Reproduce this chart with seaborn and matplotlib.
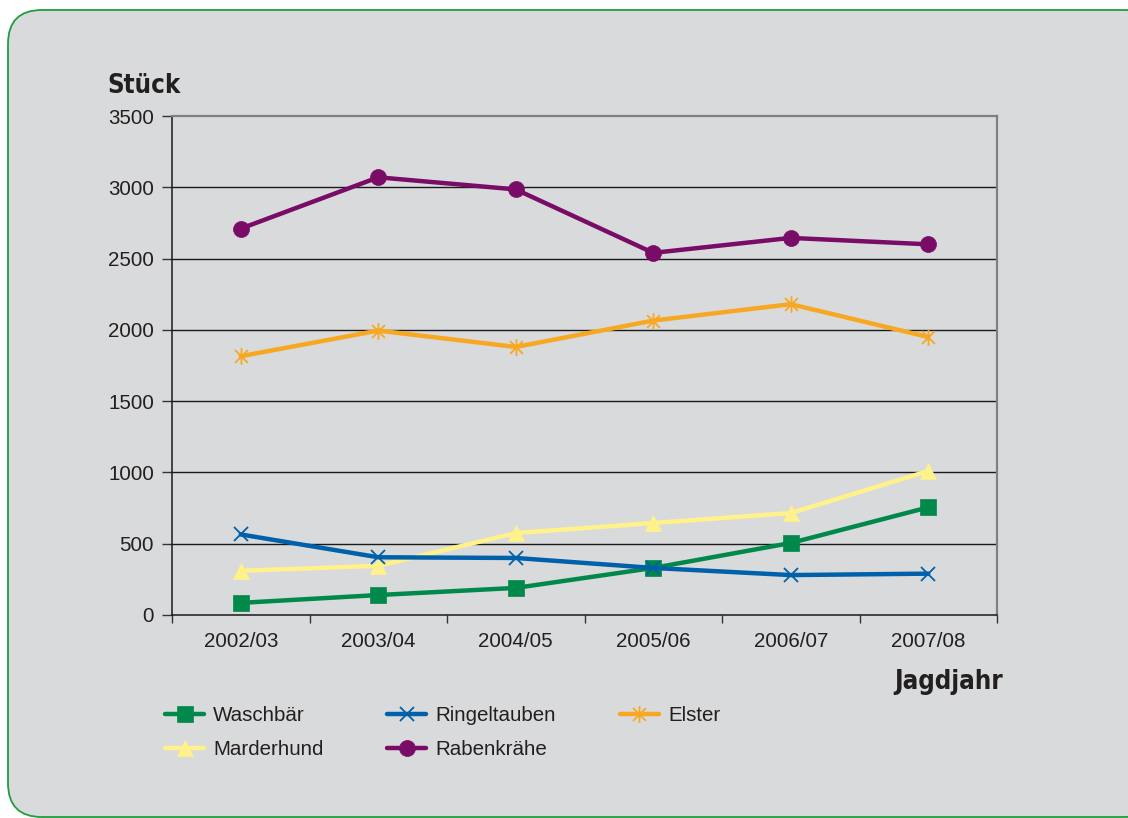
import matplotlib
matplotlib.use("Agg")
import matplotlib.pyplot as plt
import matplotlib.transforms as mtransforms
from matplotlib.patches import FancyBboxPatch
from matplotlib.path import Path
import numpy as np
import pandas as pd
import seaborn as sns

# Jagdjahre
years = ["2002/03", "2003/04", "2004/05", "2005/06", "2006/07", "2007/08"]

# Streckenzahlen (Stück)
waschbaer = [85, 140, 190, 330, 505, 755]
marderhund = [310, 345, 575, 645, 715, 1010]
ringeltauben = [565, 405, 400, 330, 280, 290]
rabenkraehe = [2710, 3070, 2985, 2540, 2645, 2600]
elster = [1815, 1995, 1880, 2065, 2180, 1950]

y_ticks = [0, 500, 1000, 1500, 2000, 2500, 3000, 3500]

sns.set_theme(style="white")
plt.rcParams["font.family"] = ["Liberation Sans", "DejaVu Sans"]

TEXT = "#231f20"
BG = "#d9dadb"
FS = 14.8

# Asterisk marker: an X plus a vertical stroke
star_path = Path(
    [(-1, -1), (1, 1), (-1, 1), (1, -1), (0, -1.3), (0, 1.3)],
    [Path.MOVETO, Path.LINETO, Path.MOVETO, Path.LINETO, Path.MOVETO, Path.LINETO],
)

series = [
    ("Waschbär", waschbaer, "#00894a", "s", 11),
    ("Marderhund", marderhund, "#fff28a", "^", 12),
    ("Ringeltauben", ringeltauben, "#0060aa", "x", 10.5),
    ("Rabenkrähe", rabenkraehe, "#790c66", "o", 11.5),
    ("Elster", elster, "#f7a823", star_path, 12),
]

frames = []
for name, vals, *_ in series:
    frames.append(pd.DataFrame({"pos": np.arange(len(years)), "value": vals, "Art": name}))
df = pd.concat(frames, ignore_index=True)

fig = plt.figure(figsize=(11.28, 8.18), dpi=100)
fig.patch.set_facecolor("white")

# Rounded panel behind the chart
panel = FancyBboxPatch(
    (8 / 1128, 1 / 818), 1150 / 1128, 807 / 818,
    boxstyle="round,pad=0,rounding_size=0.03",
    transform=fig.transFigure, facecolor=BG, edgecolor="#1f9e3c",
    linewidth=1.3, zorder=-5, mutation_aspect=1128 / 818,
)
fig.patches.append(panel)

ax = fig.add_axes([172 / 1128, (818 - 615) / 818, 825 / 1128, 499 / 818])
ax.set_zorder(2)
ax.set_facecolor(BG)

zorders = {"Waschbär": 3, "Marderhund": 4, "Ringeltauben": 5, "Rabenkrähe": 6, "Elster": 7}
for name, vals, color, marker, ms in series:
    sub = df[df["Art"] == name]
    sns.lineplot(
        data=sub, x="pos", y="value", ax=ax, color=color, linewidth=3.2,
        marker=marker, markersize=ms, markeredgecolor=color,
        markeredgewidth=1.3 if name in ("Ringeltauben", "Elster") else 0.5,
        label=name, zorder=zorders[name], legend=False,
    )

ax.set_xlim(-0.5, len(years) - 0.5)
ax.set_ylim(0, 3500)
ax.set_yticks(y_ticks)
ax.set_yticklabels([str(v) for v in y_ticks], fontsize=FS, color=TEXT)

# Y labels sit slightly below their tick marks
shift = mtransforms.ScaledTranslation(0, -5 / 100, fig.dpi_scale_trans)
for lbl in ax.get_yticklabels():
    lbl.set_transform(lbl.get_transform() + shift)

# Tick marks at category borders, labels centred in each category
ax.set_xticks(np.arange(len(years) + 1) - 0.5)
ax.set_xticklabels([])
ax.set_xticks(np.arange(len(years)), minor=True)
ax.set_xticklabels(years, minor=True, fontsize=FS, color=TEXT)
ax.tick_params(axis="x", which="major", direction="out", length=6, width=1, color="#333333", bottom=True)
ax.tick_params(axis="x", which="minor", length=0, pad=12)
ax.tick_params(axis="y", direction="out", length=7, width=1, color="#333333", left=True, pad=6)

for v in y_ticks[1:-1]:
    ax.axhline(v, color="#1a1a1a", linewidth=1.0, zorder=1)

ax.set_xlabel("")
ax.set_ylabel("")
for side in ("left", "bottom"):
    ax.spines[side].set_color("#1a1a1a")
    ax.spines[side].set_linewidth(1.1)
for side in ("top", "right"):
    ax.spines[side].set_color("#808080")
    ax.spines[side].set_linewidth(1.6)

fig.text(107 / 1128, (818 - 93) / 818, "Stück", fontsize=18.5, fontweight="bold",
         family="DejaVu Sans", fontstretch="condensed", color=TEXT, ha="left", va="baseline")
fig.text(1003 / 1128, (818 - 689) / 818, "Jagdjahr", fontsize=18.5, fontweight="bold",
         family="DejaVu Sans", fontstretch="condensed", color=TEXT, ha="right", va="baseline")

handles, labels = ax.get_legend_handles_labels()
leg = fig.legend(
    handles, labels, ncol=3, frameon=False, loc="upper left",
    bbox_to_anchor=(165 / 1128, (818 - 706) / 818), borderpad=0, borderaxespad=0,
    fontsize=FS, handlelength=1.9, handletextpad=0.45, labelspacing=0.75,
    columnspacing=3.1, labelcolor=TEXT,
)

fig.savefig("out.png", dpi=100, facecolor="white")
